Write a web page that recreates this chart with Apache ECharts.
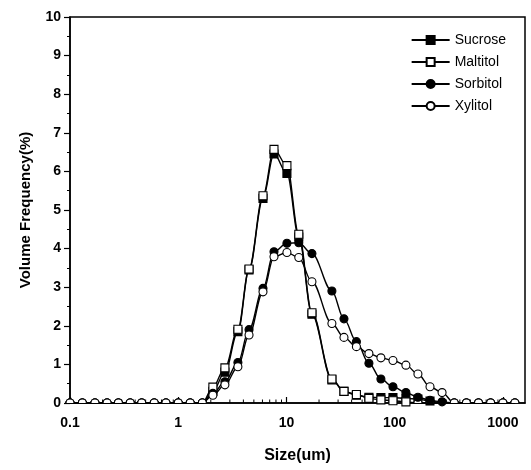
<!DOCTYPE html>
<html>
<head>
<meta charset="utf-8">
<script src="https://cdn.jsdelivr.net/npm/echarts@6/dist/echarts.min.js"></script>
<style>
html,body{margin:0;padding:0;background:#fff;}
#chart{width:531px;height:470px;}
</style>
</head>
<body>
<div id="chart"></div>
<script>
// Particle size bins (um)
const sizes = [0.1, 0.13, 0.17, 0.22, 0.28, 0.36, 0.46, 0.6, 0.77, 1.0, 1.29, 1.67,
  2.09, 2.7, 3.56, 4.51, 6.07, 7.67, 10.1, 13.0, 17.2, 26.3, 34.0, 44.3, 57.8, 74.6, 96.4, 127, 164, 212, 274,
  355, 460, 595, 770, 1000, 1290];
const sucrose = [0,0,0,0,0,0,0,0,0,0,0,0,
  0.3, 0.8, 1.85, 3.45, 5.3, 6.45, 5.95, 4.3, 2.3, 0.6, 0.3, 0.2, 0.15, 0.14, 0.14, 0.12, 0.1, 0.05, 0,
  0,0,0,0,0,0];
const maltitol = [0,0,0,0,0,0,0,0,0,0,0,0,
  0.41, 0.91, 1.91, 3.47, 5.37, 6.57, 6.15, 4.37, 2.34, 0.62, 0.3, 0.22, 0.12, 0.08, 0.06, 0.03, 0, 0, 0,
  0,0,0,0,0,0];
const sorbitol = [0,0,0,0,0,0,0,0,0,0,0,0,
  0.25, 0.55, 1.05, 1.9, 2.97, 3.92, 4.14, 4.15, 3.87, 2.9, 2.18, 1.59, 1.03, 0.62, 0.42, 0.27, 0.15, 0.07, 0.03,
  0,0,0,0,0,0];
const xylitol = [0,0,0,0,0,0,0,0,0,0,0,0,
  0.2, 0.47, 0.94, 1.76, 2.88, 3.79, 3.9, 3.77, 3.14, 2.06, 1.7, 1.46, 1.28, 1.17, 1.1, 0.98, 0.75, 0.42, 0.27,
  0,0,0,0,0,0];
const seriesNames = ['Sucrose', 'Maltitol', 'Sorbitol', 'Xylitol'];
const minorTickValues = [0.2,0.3,0.4,0.5,0.6,0.7,0.8,0.9, 2,3,4,5,6,7,8,9, 20,30,40,50,60,70,80,90, 200,300,400,500,600,700,800,900];

const halfDisk = 'path://M0 0 M20 20 M0 10 A10 10 0 0 1 20 10';
const FONT = 'Liberation Sans, Arial, sans-serif';

function buildData(vals) {
  return sizes.map((s, i) => vals[i] === 0
    ? { value: [s, vals[i]], symbol: halfDisk }
    : { value: [s, vals[i]] });
}

function makeSeries(name, vals, symbol, filled) {
  return {
    name: name,
    type: 'line',
    data: buildData(vals),
    symbol: symbol,
    symbolSize: 8,
    smooth: 0.35,
    smoothMonotone: 'x',
    clip: false,
    lineStyle: { color: '#000', width: 1.4 },
    itemStyle: { color: filled ? '#000' : '#fff', borderColor: '#000', borderWidth: 1.1 },
    emphasis: { disabled: true }
  };
}

const chart = echarts.init(document.getElementById('chart'), null, { renderer: 'canvas' });
chart.setOption({
  animation: false,
  backgroundColor: '#fff',
  grid: { left: 70, right: 6, top: 17, bottom: 67, show: true, borderColor: '#000', borderWidth: 1.5, backgroundColor: 'transparent' },
  legend: {
    data: seriesNames,
    orient: 'vertical',
    right: 20,
    top: 28,
    itemGap: 8,
    itemWidth: 38,
    itemHeight: 10,
    textStyle: { fontFamily: FONT, fontSize: 14, color: '#000' },
    selectedMode: false
  },
  xAxis: {
    type: 'log',
    logBase: 10,
    min: 0.1,
    max: 1600,
    name: 'Size(um)',
    nameLocation: 'middle',
    nameGap: 45,
    nameTextStyle: { fontFamily: FONT, fontSize: 16, fontWeight: 'bold', color: '#000' },
    axisLine: { lineStyle: { color: '#000', width: 1.5 } },
    axisTick: { inside: true, length: 6, lineStyle: { color: '#000', width: 1.2 } },
    axisLabel: {
      fontFamily: FONT, fontSize: 14, fontWeight: 'bold', color: '#000', margin: 13,
      showMaxLabel: false,
      formatter: v => String(+Number(v).toPrecision(3))
    },
    splitLine: { show: false }
  },
  yAxis: {
    type: 'value',
    min: 0,
    max: 10,
    interval: 1,
    name: 'Volume Frequency(%)',
    nameLocation: 'middle',
    nameGap: 37,
    nameTextStyle: { fontFamily: FONT, fontSize: 15, fontWeight: 'bold', color: '#000' },
    axisLine: { show: true, lineStyle: { color: '#000', width: 1.5 } },
    axisTick: { show: true, inside: false, length: 6, lineStyle: { color: '#000', width: 1.2 } },
    minorTick: { show: true, splitNumber: 2, length: 3, lineStyle: { color: '#000', width: 1 } },
    axisLabel: { fontFamily: FONT, fontSize: 14, fontWeight: 'bold', color: '#000', margin: 9 },
    splitLine: { show: false }
  },
  series: [
    {
      name: 'minorTicks',
      type: 'custom',
      silent: true,
      data: minorTickValues.map(v => [v]),
      encode: { x: 0 },
      renderItem: function (params, api) {
        const p = api.coord([api.value(0), 0]);
        return {
          type: 'line',
          shape: { x1: p[0], y1: p[1], x2: p[0], y2: p[1] - 3.5 },
          style: { stroke: '#000', lineWidth: 1 }
        };
      }
    },
    makeSeries('Sucrose', sucrose, 'rect', true),
    makeSeries('Maltitol', maltitol, 'rect', false),
    makeSeries('Sorbitol', sorbitol, 'circle', true),
    makeSeries('Xylitol', xylitol, 'circle', false)
  ]
});
</script>
</body>
</html>
